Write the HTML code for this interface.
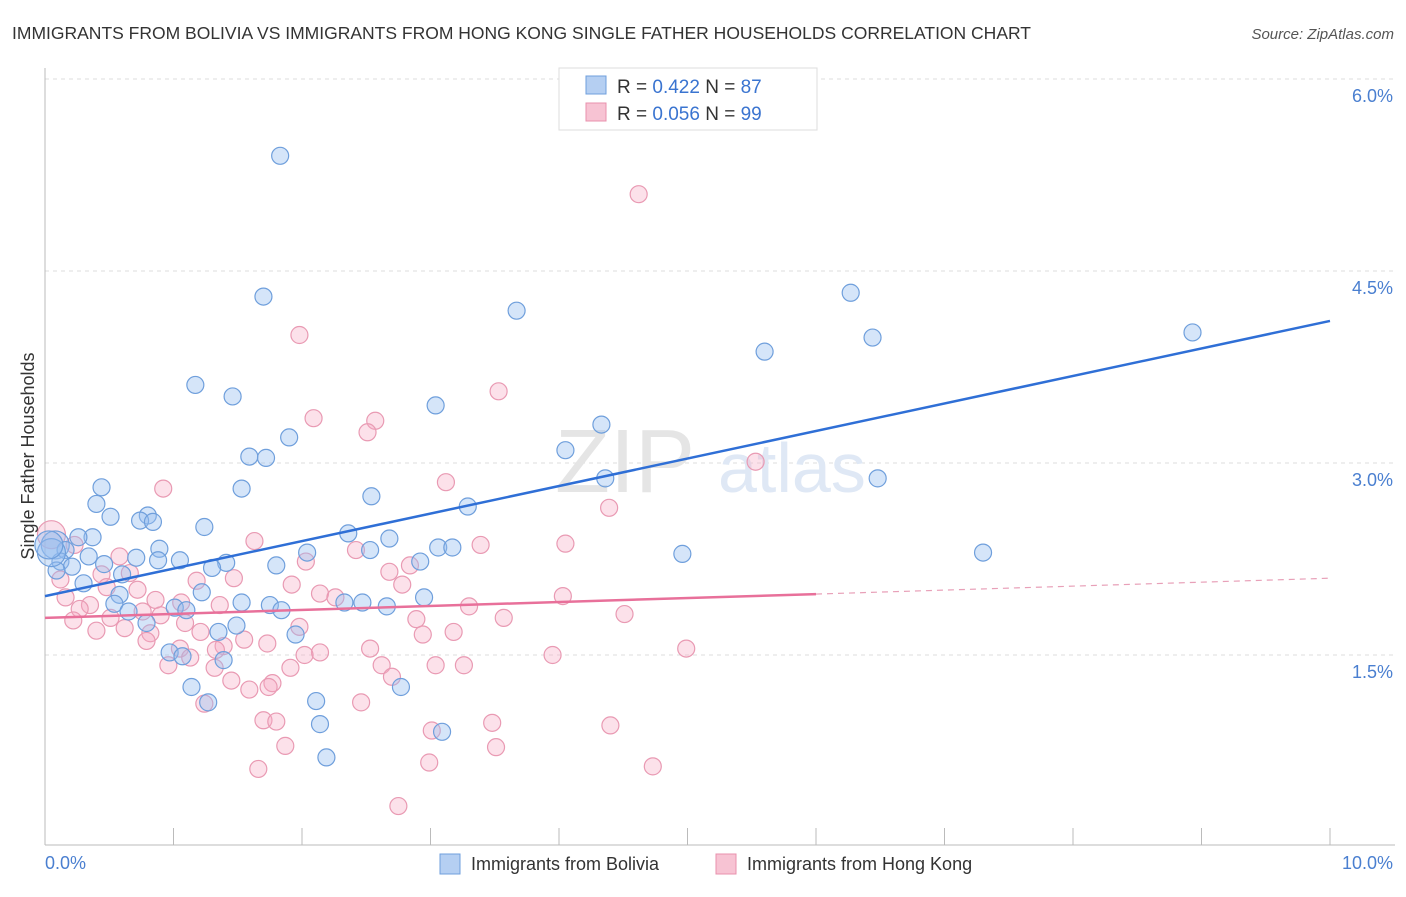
<!DOCTYPE html>
<html><head><meta charset="utf-8"><style>
body{margin:0;background:#fff;font-family:"Liberation Sans",sans-serif}
svg text{font-family:"Liberation Sans",sans-serif}
</style></head><body>
<svg id="chart" width="1406" height="892" xmlns="http://www.w3.org/2000/svg">
<text x="12" y="39" font-size="17.5" fill="#333">IMMIGRANTS FROM BOLIVIA VS IMMIGRANTS FROM HONG KONG SINGLE FATHER HOUSEHOLDS CORRELATION CHART</text>
<text x="1394" y="39" font-size="15" fill="#555" text-anchor="end" font-style="italic">Source: ZipAtlas.com</text>
<g id="grid"></g>
<text x="555" y="492" font-size="90" fill="#e5e5e5" font-family="Liberation Serif">ZIP</text>
<text x="718" y="492" font-size="70" fill="#dfe8f5">atlas</text>
<g id="marks"></g>
<text transform="translate(34,456) rotate(-90)" font-size="18" fill="#333" text-anchor="middle">Single Father Households</text>
<text x="45" y="869" font-size="18" fill="#4a7fd0">0.0%</text>
<text x="1393" y="869" font-size="18" fill="#4a7fd0" text-anchor="end">10.0%</text>
<g>
<rect x="559" y="68" width="258" height="62" fill="#fff" stroke="#ddd"/>
<rect x="586" y="76" width="20" height="18" fill="#b5cff2" stroke="#6f9fdc"/>
<rect x="586" y="103" width="20" height="18" fill="#f7c3d3" stroke="#e890ac"/>
<text x="617" y="93" font-size="19" fill="#333">R = <tspan fill="#3a74d0">0.422</tspan>   N = <tspan fill="#3a74d0">87</tspan></text>
<text x="617" y="120" font-size="19" fill="#333">R = <tspan fill="#3a74d0">0.056</tspan>   N = <tspan fill="#3a74d0">99</tspan></text>
</g>
<g>
<rect x="440" y="854" width="20" height="20" fill="#b5cff2" stroke="#6f9fdc"/>
<text x="471" y="870" font-size="18" fill="#333">Immigrants from Bolivia</text>
<rect x="716" y="854" width="20" height="20" fill="#f7c3d3" stroke="#e890ac"/>
<text x="747" y="870" font-size="18" fill="#333">Immigrants from Hong Kong</text>
</g>
</svg>
<script>
const yTicks=[1.5,3.0,4.5,6.0];
const yTickLabels=["1.5%","3.0%","4.5%","6.0%"];
const xTicks=[0,1,2,3,4,5,6,7,8,9,10];
const blueX=[1.83,1.70,3.67,6.27,6.44,8.93,5.60,1.17,1.46,3.04,4.33,1.90,4.05,1.59,1.72,6.48,4.36,0.44,1.53,2.54,0.40,3.29,0.51,0.80,0.74,0.84,1.24,2.36,0.37,0.26,2.68,0.08,0.16,0.89,3.06,3.17,2.53,2.04,4.96,7.30,0.34,0.71,0.88,1.05,0.12,0.46,1.41,2.92,1.80,0.21,1.30,0.09,0.60,0.30,1.22,0.58,2.95,0.54,1.53,1.75,2.33,2.47,2.66,1.01,1.10,0.65,1.84,0.79,1.49,1.35,1.95,0.97,1.07,1.39,1.14,2.77,1.27,2.11,2.14,3.09,2.19,0.05,0.03];
const blueY=[5.40,4.30,4.19,4.33,3.98,4.02,3.87,3.61,3.52,3.45,3.30,3.20,3.10,3.05,3.04,2.88,2.88,2.81,2.80,2.74,2.68,2.66,2.58,2.59,2.55,2.54,2.50,2.45,2.42,2.42,2.41,2.36,2.32,2.33,2.34,2.34,2.32,2.30,2.29,2.30,2.27,2.26,2.24,2.24,2.23,2.21,2.22,2.23,2.20,2.19,2.18,2.16,2.13,2.06,1.99,1.97,1.95,1.90,1.91,1.89,1.91,1.91,1.88,1.87,1.85,1.84,1.85,1.75,1.73,1.68,1.66,1.52,1.49,1.46,1.25,1.25,1.13,1.14,0.96,0.90,0.70,2.30,2.36];
const pinkX=[4.62,1.98,3.53,2.09,2.57,2.51,5.53,3.12,0.92,4.39,1.63,3.39,4.05,2.42,0.05,0.58,2.84,2.03,2.68,0.66,0.44,1.47,1.18,0.12,1.92,2.78,0.48,0.16,0.72,2.14,2.26,4.03,0.86,1.06,0.35,1.36,3.30,0.27,0.76,0.90,4.51,2.89,3.57,0.22,0.51,1.09,1.98,0.62,0.40,0.82,1.21,2.94,3.18,1.55,0.79,1.73,1.39,1.05,2.53,2.14,4.99,3.95,1.33,2.02,1.13,0.96,2.62,3.04,3.26,1.91,1.32,2.70,1.45,1.77,1.74,1.59,1.24,2.46,1.70,1.80,3.48,4.40,3.01,1.87,3.51,2.99,4.73,1.66,2.75,0.23];
const pinkY=[5.10,4.00,3.56,3.35,3.33,3.24,3.01,2.85,2.80,2.65,2.39,2.36,2.37,2.32,2.44,2.27,2.20,2.23,2.15,2.14,2.13,2.10,2.08,2.09,2.05,2.05,2.03,1.95,2.01,1.98,1.95,1.96,1.93,1.91,1.89,1.89,1.88,1.86,1.84,1.81,1.82,1.78,1.79,1.77,1.79,1.75,1.72,1.71,1.69,1.67,1.68,1.66,1.68,1.62,1.61,1.59,1.57,1.55,1.55,1.52,1.55,1.50,1.54,1.50,1.48,1.42,1.42,1.42,1.42,1.40,1.40,1.33,1.30,1.28,1.25,1.23,1.12,1.13,0.99,0.98,0.97,0.95,0.91,0.79,0.78,0.66,0.63,0.61,0.32,2.36];
const blueTrend=[1.96,4.11];
const pinkTrend=[1.79,2.10];
const pinkSolidEnd=6.0;
const X=v=>45+v*128.5, Y=v=>847-v*128;
const NS="http://www.w3.org/2000/svg";
function mk(t,a,p){const e=document.createElementNS(NS,t);for(const k in a)e.setAttribute(k,a[k]);p.appendChild(e);return e;}
const grid=document.getElementById('grid'), marks=document.getElementById('marks');
yTicks.forEach((t,i)=>{
 const l=mk('line',{x1:45,x2:1395,y1:Y(t),y2:Y(t),stroke:'#ddd','stroke-dasharray':'4,4'},grid);
 
 
 const tx=mk('text',{x:1393,y:Y(t)+23,'font-size':18,fill:'#4a7fd0','text-anchor':'end'},grid);
 tx.textContent=yTickLabels[i];
 
 
});
mk('line',{x1:45,x2:45,y1:68,y2:845,stroke:'#bbb'},grid);
mk('line',{x1:45,x2:1395,y1:845,y2:845,stroke:'#bbb'},grid);
xTicks.forEach(t=>{
 const l=mk('line',{x1:X(t),x2:X(t),y1:828,y2:845,stroke:'#bbb'},grid);
 
 
});
function pts(xs,ys,fill,stroke,name){
 xs.forEach((x,i)=>{
  const big=(x<0.1&&ys[i]>2.28);
  const c=mk('circle',{cx:X(x),cy:Y(ys[i]),r:big?14:8.5,fill:fill,stroke:stroke,'stroke-width':1.2},marks);
  
  
 });
}
pts(pinkX,pinkY,'rgba(245,170,195,0.35)','#e99ab3','hong-kong-point');
pts(blueX,blueY,'rgba(150,190,240,0.4)','#6f9fdc','bolivia-point');
const bl=mk('line',{x1:X(0),y1:Y(blueTrend[0]),x2:X(10),y2:Y(blueTrend[1]),stroke:'#2f6fd6','stroke-width':2.5},marks);


const pm=pinkTrend[0]+(pinkTrend[1]-pinkTrend[0])*pinkSolidEnd/10;
const pl=mk('line',{x1:X(0),y1:Y(pinkTrend[0]),x2:X(pinkSolidEnd),y2:Y(pm),stroke:'#e8709a','stroke-width':2.5},marks);


const pd=mk('line',{x1:X(pinkSolidEnd),y1:Y(pm),x2:X(10),y2:Y(pinkTrend[1]),stroke:'#e8a0b8','stroke-width':1.2,'stroke-dasharray':'6,5'},marks);


</script>
</body></html>
